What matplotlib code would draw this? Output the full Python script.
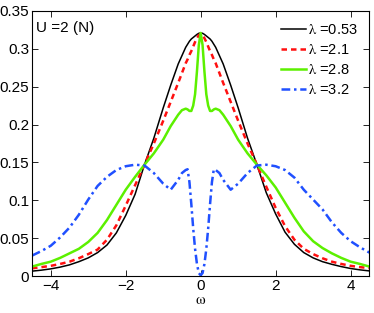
import matplotlib
matplotlib.use('Agg')
import matplotlib.pyplot as plt

plt.rcParams['font.family'] = ['Liberation Sans', 'DejaVu Sans']
plt.rcParams['mathtext.fontset'] = 'stix'
plt.rcParams['font.size'] = 10

# frequency grid (finer near the centre)
omega = [-4.5, -4.25, -4.0, -3.75, -3.5, -3.25, -3.0, -2.75, -2.5, -2.25, -2.0, -1.75,
         -1.5, -1.25, -1.0, -0.8, -0.6, -0.5, -0.4, -0.35, -0.3, -0.25, -0.2, -0.15,
         -0.1, -0.05, 0.0,
         0.05, 0.1, 0.15, 0.2, 0.25, 0.3, 0.35, 0.4, 0.5, 0.6, 0.8, 1.0,
         1.25, 1.5, 1.75, 2.0, 2.25, 2.5, 2.75, 3.0, 3.25, 3.5, 3.75, 4.0, 4.25, 4.5]

# lambda = 0.53
dos_053 = [0.0065, 0.0078, 0.0095, 0.0118, 0.0148, 0.019, 0.024, 0.031, 0.041, 0.057, 0.080, 0.108,
           0.147, 0.182, 0.222, 0.252, 0.280, 0.291, 0.302, 0.306, 0.310, 0.313, 0.315, 0.317,
           0.319, 0.3205, 0.321,
           0.3205, 0.319, 0.317, 0.315, 0.313, 0.310, 0.306, 0.302, 0.291, 0.280, 0.252, 0.222,
           0.182, 0.147, 0.110, 0.082, 0.058, 0.042, 0.031, 0.024, 0.019, 0.0155, 0.0125, 0.010, 0.0082, 0.0068]

# lambda = 2.1
dos_21 = [0.0102, 0.0118, 0.0135, 0.016, 0.019, 0.0235, 0.029, 0.035, 0.048, 0.067, 0.093, 0.120,
          0.147, 0.175, 0.205, 0.230, 0.255, 0.268, 0.281, 0.286, 0.292, 0.297, 0.303, 0.309,
          0.314, 0.318, 0.320,
          0.318, 0.314, 0.309, 0.303, 0.297, 0.292, 0.286, 0.281, 0.268, 0.255, 0.230, 0.205,
          0.175, 0.147, 0.118, 0.090, 0.066, 0.048, 0.036, 0.029, 0.0235, 0.019, 0.016, 0.0135, 0.0118, 0.0105]

# lambda = 2.8
dos_28 = [0.0125, 0.016, 0.019, 0.024, 0.030, 0.036, 0.045, 0.057, 0.074, 0.094, 0.114, 0.131,
          0.147, 0.162, 0.180, 0.198, 0.213, 0.219, 0.221, 0.220, 0.218, 0.218, 0.225, 0.240,
          0.270, 0.305, 0.321,
          0.305, 0.270, 0.240, 0.225, 0.218, 0.218, 0.220, 0.221, 0.219, 0.213, 0.198, 0.180,
          0.162, 0.147, 0.133, 0.117, 0.097, 0.077, 0.059, 0.046, 0.037, 0.030, 0.024, 0.019, 0.016, 0.0125]

# lambda = 3.2
dos_32 = [0.027, 0.033, 0.040, 0.051, 0.064, 0.081, 0.101, 0.119, 0.131, 0.140, 0.145, 0.147,
          0.146, 0.136, 0.122, 0.114, 0.127, 0.136, 0.140, 0.141, 0.124, 0.095, 0.063, 0.036,
          0.016, 0.004, 0.001,
          0.004, 0.016, 0.036, 0.063, 0.095, 0.124, 0.141, 0.140, 0.136, 0.127, 0.114, 0.122,
          0.136, 0.146, 0.147, 0.145, 0.140, 0.130, 0.114, 0.101, 0.088, 0.071, 0.057, 0.046, 0.038, 0.031]

labels = [r'$\mathrm{\lambda}$ =0.53', r'$\mathrm{\lambda}$ =2.1',
          r'$\mathrm{\lambda}$ =2.8', r'$\mathrm{\lambda}$ =3.2']

fig = plt.figure(figsize=(3.74, 3.13), dpi=100)
ax = fig.add_axes([0.0856, 0.118, 0.902, 0.847])

ax.plot(omega, dos_053, color='black', lw=1.1, label=labels[0])
ax.plot(omega, dos_21, color='#ff1010', lw=1.8, ls=(0, (2.2, 1.6)), label=labels[1])
ax.plot(omega, dos_28, color='#5cf000', lw=1.8, label=labels[2])
ax.plot(omega, dos_32, color='#2050ff', lw=1.8, ls=(0, (3.5, 1.5, 1, 1.5)), label=labels[3])

ax.set_xlim(-4.5, 4.5)
ax.set_ylim(0, 0.35)
ax.set_xticks([-4, -2, 0, 2, 4])
ax.set_yticks([0, 0.05, 0.1, 0.15, 0.2, 0.25, 0.3, 0.35])
ax.set_yticklabels(['0', '0.05', '0.1', '0.15', '0.2', '0.25', '0.3', '0.35'])
ax.tick_params(direction='in', top=True, right=True, length=4, width=0.6, labelsize=11, pad=2)
for s in ax.spines.values():
    s.set_linewidth(0.8)

ax.set_xlabel(r'$\mathrm{\omega}$', fontsize=11, labelpad=0)
ax.text(0.012, 0.935, 'U =2 (N)', transform=ax.transAxes, ha='left', va='center', fontsize=11)

ax.legend(loc='upper right', frameon=False, handlelength=1.7, handletextpad=0.15,
          labelspacing=0.42, borderaxespad=0.4, fontsize=10.5)

fig.savefig('out.png', dpi=100)
